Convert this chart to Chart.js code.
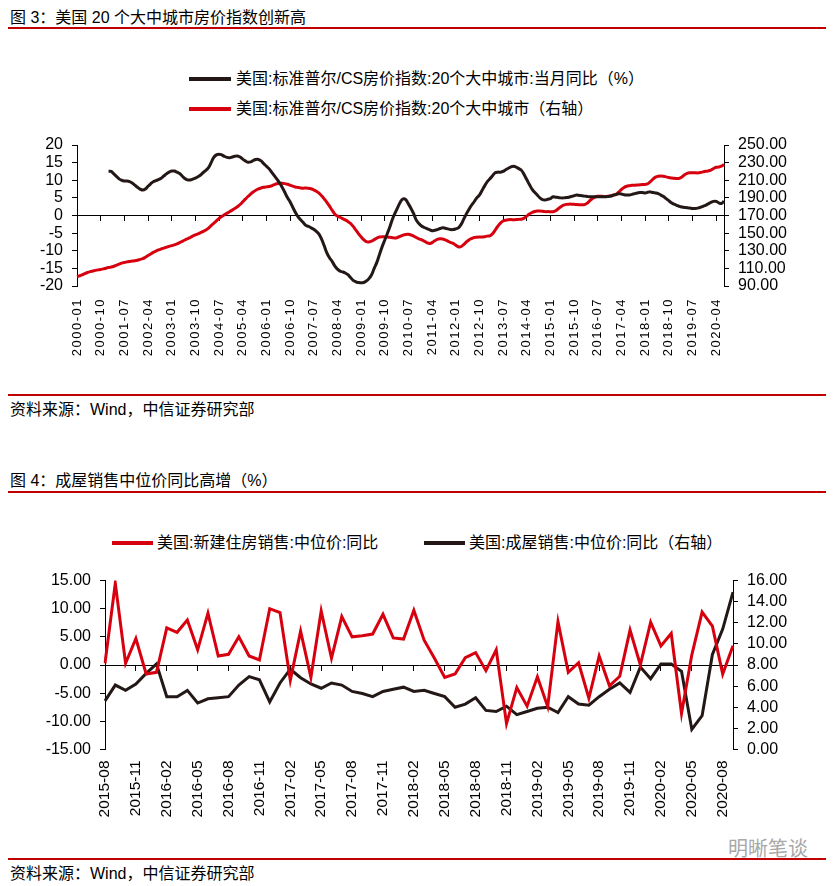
<!DOCTYPE html>
<html>
<head>
<meta charset="utf-8">
<script src="https://cdn.jsdelivr.net/npm/chart.js@4.4.1/dist/chart.umd.min.js"></script>
<style>
  body { margin: 0; background: #fff; }
  #page { position: relative; width: 837px; height: 886px; overflow: hidden;
          font-family: "Liberation Sans", Arial, "Noto Sans CJK SC", sans-serif; color: #000; }
  .txt { position: absolute; font-size: 16px; line-height: 20px; white-space: nowrap; }
  .rule { position: absolute; left: 8px; width: 818px; height: 2px; background: #c00000; }
  .swatch { position: absolute; height: 4px; }
  .box { position: absolute; left: 0; width: 837px; }
</style>
</head>
<body>
<div id="page">
  <div class="txt" style="left:10px;top:8px;">图 3：美国 20 个大中城市房价指数创新高</div>
  <div class="rule" style="top:27px;"></div>

  <div class="swatch" style="left:189px;top:77px;width:42px;background:#231815;"></div>
  <div class="txt" style="left:236px;top:69px;">美国:标准普尔/CS房价指数:20个大中城市:当月同比（%）</div>
  <div class="swatch" style="left:189px;top:107px;width:42px;background:#d7000f;"></div>
  <div class="txt" style="left:236px;top:99px;">美国:标准普尔/CS房价指数:20个大中城市（右轴）</div>

  <div class="box" style="top:125px;height:245px;"><canvas id="hpiChart" width="837" height="245"></canvas></div>

  <div class="rule" style="top:394px;"></div>
  <div class="txt" style="left:10px;top:400px;">资料来源：Wind，中信证券研究部</div>

  <div class="txt" style="left:10px;top:471px;">图 4：成屋销售中位价同比高增（%）</div>
  <div class="rule" style="top:491px;"></div>

  <div class="swatch" style="left:112px;top:541px;width:41px;background:#d7000f;"></div>
  <div class="txt" style="left:157px;top:533px;">美国:新建住房销售:中位价:同比</div>
  <div class="swatch" style="left:424px;top:541px;width:41px;background:#231815;"></div>
  <div class="txt" style="left:469px;top:533px;">美国:成屋销售:中位价:同比（右轴）</div>

  <div class="box" style="top:560px;height:275px;"><canvas id="salesChart" width="837" height="275"></canvas></div>

  <div class="txt" style="left:728px;top:837px;font-size:20px;line-height:24px;color:#a8a8a8;">明晰笔谈</div>
  <div class="rule" style="top:858px;"></div>
  <div class="txt" style="left:10px;top:864px;">资料来源：Wind，中信证券研究部</div>
</div>

<script>
// ---- 图3 数据 (2000-01 ~ 2020-07, 月度) ----
const hpiStart = [2000, 1];
const hpiTickStep = 9;

// S&P/CS 20城房价指数 (右轴)
const hpiIndex = [
  100.6, 101.6, 102.7, 104.1, 105.3, 106.3, 107.0, 107.7, 108.3, 108.8, 109.4, 110.2,
  110.9, 111.5, 112.4, 113.6, 114.8, 115.9, 116.7, 117.4, 117.9, 118.3, 118.7, 119.3,
  120.2, 121.0, 122.6, 124.5, 126.4, 128.1, 129.6, 130.9, 132.0, 133.0, 134.0, 135.0,
  135.8, 136.6, 137.7, 139.2, 140.7, 142.2, 143.6, 145.0, 146.5, 147.9, 149.2, 150.6,
  152.0, 153.6, 155.7, 158.4, 161.2, 164.0, 166.6, 168.8, 170.7, 172.5, 174.3, 176.1,
  178.0, 180.0, 182.5, 185.5, 188.6, 191.6, 194.3, 196.7, 198.6, 200.1, 201.2, 202.0,
  202.5, 202.9, 203.7, 205.0, 206.0, 206.5, 206.6, 206.2, 205.4, 204.4, 203.3, 202.4,
  201.8, 201.3, 201.0, 201.2, 201.0, 200.3, 199.2, 197.6, 195.3, 192.3, 188.8, 185.0,
  180.6, 176.0, 171.8, 169.4, 168.0, 166.5, 165.0, 163.2, 161.0, 157.6, 153.6, 149.5,
  145.8, 142.6, 140.3, 140.0, 140.9, 142.6, 144.4, 145.6, 146.0, 145.8, 145.5, 145.2,
  144.8, 144.4, 145.3, 146.6, 147.8, 148.5, 148.6, 147.9, 146.6, 145.0, 143.4, 142.5,
  141.0, 139.3, 138.2, 139.3, 141.3, 142.9, 143.5, 143.3, 142.3, 141.0, 139.4, 138.4,
  136.4, 134.6, 134.7, 137.0, 139.8, 142.2, 143.8, 145.0, 145.4, 145.6, 145.6, 146.0,
  146.6, 147.0, 149.3, 153.4, 157.8, 161.4, 163.7, 164.7, 165.2, 165.4, 165.2, 165.4,
  165.6, 165.8, 167.0, 169.3, 171.6, 173.4, 174.5, 175.0, 175.0, 174.8, 174.4, 174.4,
  174.3, 174.2, 175.4, 177.7, 180.0, 181.7, 182.6, 182.9, 182.9, 182.7, 182.4, 182.3,
  182.2, 182.3, 184.0, 186.9, 189.4, 191.0, 191.8, 191.8, 191.7, 191.6, 191.8, 192.5,
  193.2, 194.0, 196.7, 199.5, 201.8, 203.2, 203.8, 204.2, 204.3, 204.5, 204.8, 205.1,
  205.3, 206.0, 208.4, 211.4, 213.5, 214.5, 214.8, 214.5, 213.8, 213.1, 212.6, 212.2,
  212.0, 212.1, 213.8, 216.2, 217.7, 218.4, 218.6, 218.5, 218.3, 218.7, 219.5, 220.2,
  220.5, 221.4, 223.3, 224.7, 225.0, 226.0, 227.8
];

// 当月同比 (%), 2000年无数据
const hpiYoy = [
  null, null, null, null, null, null, null, null, null, null, null, null,
  12.6, 12.5, 11.8, 11.1, 10.4, 10.0, 9.8, 9.8, 9.6, 9.2, 8.6, 8.0,
  7.5, 7.2, 7.5, 8.3, 9.0, 9.6, 9.9, 10.2, 10.6, 11.2, 11.8, 12.3,
  12.6, 12.6, 12.3, 11.9, 11.2, 10.5, 10.1, 10.1, 10.3, 10.6, 11.0, 11.5,
  12.2, 12.8, 13.6, 15.0, 16.5, 17.2, 17.4, 17.2, 16.8, 16.5, 16.4, 16.6,
  16.8, 16.9, 16.6, 16.0, 15.5, 15.1, 15.2, 15.6, 15.9, 15.9, 15.5, 14.7,
  14.0, 13.3, 12.3, 11.3, 10.3, 9.3, 8.0, 6.6, 5.1, 3.9, 2.4, 0.9,
  -0.3, -1.2, -2.0, -2.8, -3.1, -3.5, -3.9, -4.5, -5.3, -6.7, -8.6, -10.6,
  -12.0, -13.0, -14.3, -15.2, -15.8, -16.0, -16.3, -16.8, -17.6, -18.4, -18.8, -19.0,
  -19.1, -19.0, -18.6, -17.9, -16.8, -15.0, -13.3, -11.1, -8.9, -7.0, -5.1, -3.1,
  -0.9, 0.8, 2.4, 3.9, 4.7, 4.5, 3.3, 2.0, 0.5, -1.3, -2.3, -3.0,
  -3.4, -3.7, -4.0, -4.3, -4.2, -4.0, -3.7, -3.5, -3.6, -3.8, -4.0, -4.0,
  -3.8, -3.5, -2.6, -1.1, 0.4, 1.7, 2.9, 3.9, 5.0, 5.8, 7.1, 8.4,
  9.6, 10.4, 11.3, 12.1, 12.3, 12.3, 12.5, 13.0, 13.4, 13.8, 14.0, 13.7,
  13.3, 12.8, 11.6, 10.2, 8.8, 7.5, 6.6, 5.8, 5.0, 4.5, 4.4, 4.6,
  4.8, 5.3, 5.2, 5.1, 5.0, 5.0, 5.1, 5.2, 5.4, 5.6, 5.8, 5.7,
  5.6, 5.5, 5.4, 5.3, 5.3, 5.3, 5.3, 5.3, 5.3, 5.3, 5.4, 5.5,
  5.8, 6.0, 6.2, 6.1, 5.9, 5.8, 5.8, 6.0, 6.2, 6.4, 6.5, 6.5,
  6.4, 6.6, 6.7, 6.5, 6.4, 6.2, 5.8, 5.4, 4.8, 4.2, 3.6, 3.2,
  2.9, 2.6, 2.4, 2.3, 2.2, 2.1, 2.0, 2.0, 2.1, 2.3, 2.6, 2.9,
  3.3, 3.7, 4.0, 4.0, 3.6, 3.4, 4.1
];

// ---- 图4 数据 (2015-08 ~ 2020-09, 月度) ----
const salesStart = [2015, 8];
const salesTickStep = 3;

// 新建住房销售:中位价:同比 (左轴)
const newHomeYoy = [
  0.3, 14.5, 0.3, 4.7, -1.6, -1.3, 6.6, 5.8, 8.0, 2.7, 9.2, 1.6,
  1.9, 5.0, 1.6, 0.9, 10.0, 9.3, -2.7, 6.0, -2.2, 9.6, 1.2, 8.6,
  5.0, 5.2, 5.5, 9.0, 4.8, 4.6, 9.7, 4.4, 1.2, -2.2, -1.6, 1.3,
  2.2, -1.0, 2.7, -10.4, -4.0, -7.3, -2.1, -7.4, 7.7, -1.3, 0.4, -5.9,
  1.6, -3.7, -2.0, 6.2, 0.0, 7.6, 3.4, 5.6, -8.6, 1.8, 9.4, 6.9,
  -1.6, 3.4
];

// 成屋销售:中位价:同比 (右轴)
const existingHomeYoy = [
  4.6, 6.1, 5.6, 6.2, 7.2, 8.1, 5.0, 5.0, 5.6, 4.4, 4.8, 4.9,
  5.0, 6.1, 6.9, 6.6, 4.5, 6.3, 7.6, 6.8, 6.2, 5.8, 6.3, 6.1,
  5.5, 5.3, 5.0, 5.5, 5.7, 5.9, 5.5, 5.6, 5.3, 5.0, 4.0, 4.3,
  4.9, 3.7, 3.6, 4.1, 3.3, 3.6, 3.9, 4.0, 3.5, 5.0, 4.3, 4.2,
  5.0, 5.7, 6.3, 5.4, 7.8, 6.7, 8.1, 8.1, 7.4, 1.9, 3.2, 9.0,
  11.4, 14.9
];

const BLACK = '#231815';
const RED = '#d7000f';

function months(start, n) {
  let y = start[0], m = start[1];
  const out = [];
  for (let i = 0; i < n; i++) {
    out.push(y + '-' + String(m).padStart(2, '0'));
    m++;
    if (m > 12) { m = 1; y++; }
  }
  return out;
}

const hpiMonths = months(hpiStart, hpiIndex.length);
const salesMonths = months(salesStart, newHomeYoy.length);

Chart.defaults.font.family = '"Liberation Sans", Arial, sans-serif';
Chart.defaults.color = '#000';

// 横轴日期标签字距稍宽
function letterSpacing(scaleId, px) {
  return {
    id: 'spacing_' + scaleId,
    beforeLayout(chart) {
      const scale = chart.scales[scaleId];
      if (!scale || scale._spaced) return;
      const draw = scale.draw;
      scale.draw = function (area) {
        chart.ctx.save();
        chart.ctx.letterSpacing = px;
        draw.call(this, area);
        chart.ctx.restore();
      };
      scale._spaced = true;
    }
  };
}

function buildScales(o) {
  return {
    x: {
      type: 'category',
      offset: false,
      border: { display: false },
      grid: { display: false, drawTicks: false },
      ticks: {
        autoSkip: false, minRotation: 90, maxRotation: 90, padding: o.labelPad,
        font: { size: o.xFont },
        callback: (v, i) => (i % o.step === 0 ? o.labels[i] : null)
      },
      afterFit: (s) => { s.height = o.xHeight; }
    },
    // 零轴及刻度线
    zero: {
      type: 'category',
      axis: 'x',
      position: { y: 0 },
      offset: false,
      border: { display: true, color: '#000', width: 1 },
      grid: { display: true, drawOnChartArea: false, drawTicks: true, tickLength: 5, color: '#000' },
      ticks: { autoSkip: false, maxRotation: 0, padding: 0, callback: (v, i) => (i % o.step === 0 ? '' : null) }
    },
    y: {
      position: 'left',
      min: o.left.min, max: o.left.max,
      border: { display: true, color: '#000', width: 1 },
      grid: { drawOnChartArea: false, drawTicks: true, tickLength: 5, color: '#000' },
      ticks: { stepSize: o.left.step, autoSkip: false, padding: 9, font: { size: 16 }, callback: o.left.fmt },
      afterFit: (s) => { s.width = o.left.width; }
    },
    y1: {
      position: 'right',
      min: o.right.min, max: o.right.max,
      border: { display: true, color: '#000', width: 1 },
      grid: { drawOnChartArea: false, drawTicks: true, tickLength: 5, color: '#000' },
      ticks: { stepSize: o.right.step, autoSkip: false, padding: 9, font: { size: 16 }, callback: o.right.fmt },
      afterFit: (s) => { s.width = o.right.width; }
    }
  };
}

const fixed2 = (v) => v.toFixed(2);

new Chart(document.getElementById('hpiChart'), {
  type: 'line',
  data: {
    labels: hpiMonths,
    datasets: [
      { label: '美国:标准普尔/CS房价指数:20个大中城市:当月同比（%）', data: hpiYoy, yAxisID: 'y',
        borderColor: BLACK, borderWidth: 3, pointRadius: 0, tension: 0.4 },
      { label: '美国:标准普尔/CS房价指数:20个大中城市（右轴）', data: hpiIndex, yAxisID: 'y1',
        borderColor: RED, borderWidth: 3, pointRadius: 0, tension: 0.4 }
    ]
  },
  options: {
    responsive: false,
    animation: false,
    layout: { padding: { top: 20, left: 0, right: 0, bottom: 0 } },
    plugins: { legend: { display: false }, tooltip: { enabled: false } },
    scales: buildScales({
      labels: hpiMonths, step: hpiTickStep, xFont: 13, labelPad: 12, xHeight: 84,
      left: { min: -20, max: 20, step: 5, width: 77, fmt: (v) => v },
      right: { min: 90, max: 250, step: 20, width: 113, fmt: fixed2 }
    })
  },
  plugins: [letterSpacing('x', '1.5px')]
});

new Chart(document.getElementById('salesChart'), {
  type: 'line',
  data: {
    labels: salesMonths,
    datasets: [
      { label: '美国:新建住房销售:中位价:同比', data: newHomeYoy, yAxisID: 'y',
        borderColor: RED, borderWidth: 3, pointRadius: 0, tension: 0 },
      { label: '美国:成屋销售:中位价:同比（右轴）', data: existingHomeYoy, yAxisID: 'y1',
        borderColor: BLACK, borderWidth: 3, pointRadius: 0, tension: 0 }
    ]
  },
  options: {
    responsive: false,
    animation: false,
    layout: { padding: { top: 20.5, left: 0, right: 0, bottom: 0 } },
    plugins: { legend: { display: false }, tooltip: { enabled: false } },
    scales: buildScales({
      labels: salesMonths, step: salesTickStep, xFont: 15.5, labelPad: 11, xHeight: 85.5,
      left: { min: -15, max: 15, step: 5, width: 105, fmt: fixed2 },
      right: { min: 0, max: 16, step: 2, width: 104, fmt: fixed2 }
    })
  }
});
</script>
</body>
</html>
